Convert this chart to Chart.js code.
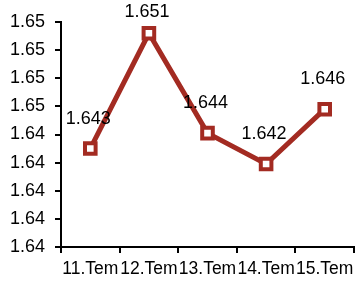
<!DOCTYPE html>
<html>
<head>
<meta charset="utf-8">
<script src="https://cdn.jsdelivr.net/npm/chart.js@4/dist/chart.umd.min.js"></script>
<style>
html,body{margin:0;padding:0;background:#fff;}
#wrap{width:355px;height:285px;position:relative;}
</style>
</head>
<body>
<div id="wrap"><canvas id="c"></canvas></div>
<script>
const categories = ["11.Tem", "12.Tem", "13.Tem", "14.Tem", "15.Tem"];
const values = [1.6430, 1.6512, 1.6441, 1.6419, 1.6458];
const yMin = 1.636, yMax = 1.652, yStep = 0.002;

const FONT = "'Liberation Sans', Arial, sans-serif";
const RED = '#a32b22';

const labelPlugin = {
  id: 'valueLabels',
  afterDatasetsDraw(chart) {
    const ctx = chart.ctx;
    const meta = chart.getDatasetMeta(0);
    ctx.save();
    ctx.font = '18px ' + FONT;
    ctx.fillStyle = '#000';
    ctx.textAlign = 'center';
    ctx.textBaseline = 'middle';
    meta.data.forEach((pt, i) => {
      const y = Math.max(pt.y - 30, 12);
      ctx.fillText(values[i].toFixed(3), pt.x - 2, y);
    });
    ctx.restore();
  }
};

new Chart(document.getElementById('c'), {
  type: 'line',
  data: {
    labels: categories,
    datasets: [{
      data: values,
      borderColor: RED,
      borderWidth: 5,
      tension: 0,
      pointStyle: 'rect',
      pointRadius: 7.5,
      pointHoverRadius: 7.5,
      pointBorderWidth: 4,
      pointBorderColor: RED,
      pointBackgroundColor: '#fff'
    }]
  },
  options: {
    responsive: true,
    maintainAspectRatio: false,
    animation: false,
    devicePixelRatio: 1,
    layout: { autoPadding: false, padding: { top: 22, right: 1, left: 0, bottom: 0 } },
    plugins: { legend: { display: false }, tooltip: { enabled: false } },
    scales: {
      x: {
        offset: true,
        grid: { display: true, drawOnChartArea: false, drawTicks: true, tickLength: 6, color: '#000', offset: true, lineWidth: 2 },
        border: { display: true, color: '#000', width: 2 },
        ticks: { color: '#000', font: { family: FONT, size: 17.5 }, padding: 6, autoSkip: false, maxRotation: 0, minRotation: 0 },
        afterFit(scale) { scale.height = 38; scale.paddingLeft = 0; scale.paddingRight = 0; }
      },
      y: {
        min: yMin, max: yMax,
        grid: { display: true, drawOnChartArea: false, drawTicks: true, tickLength: 6, color: '#000', lineWidth: 2 },
        border: { display: true, color: '#000', width: 2 },
        ticks: {
          stepSize: yStep,
          color: '#000',
          font: { family: FONT, size: 18 },
          padding: 10,
          callback: (v) => Number(v).toFixed(2)
        },
        afterFit(scale) { scale.width = 61; }
      }
    }
  },
  plugins: [labelPlugin]
});
</script>
</body>
</html>
